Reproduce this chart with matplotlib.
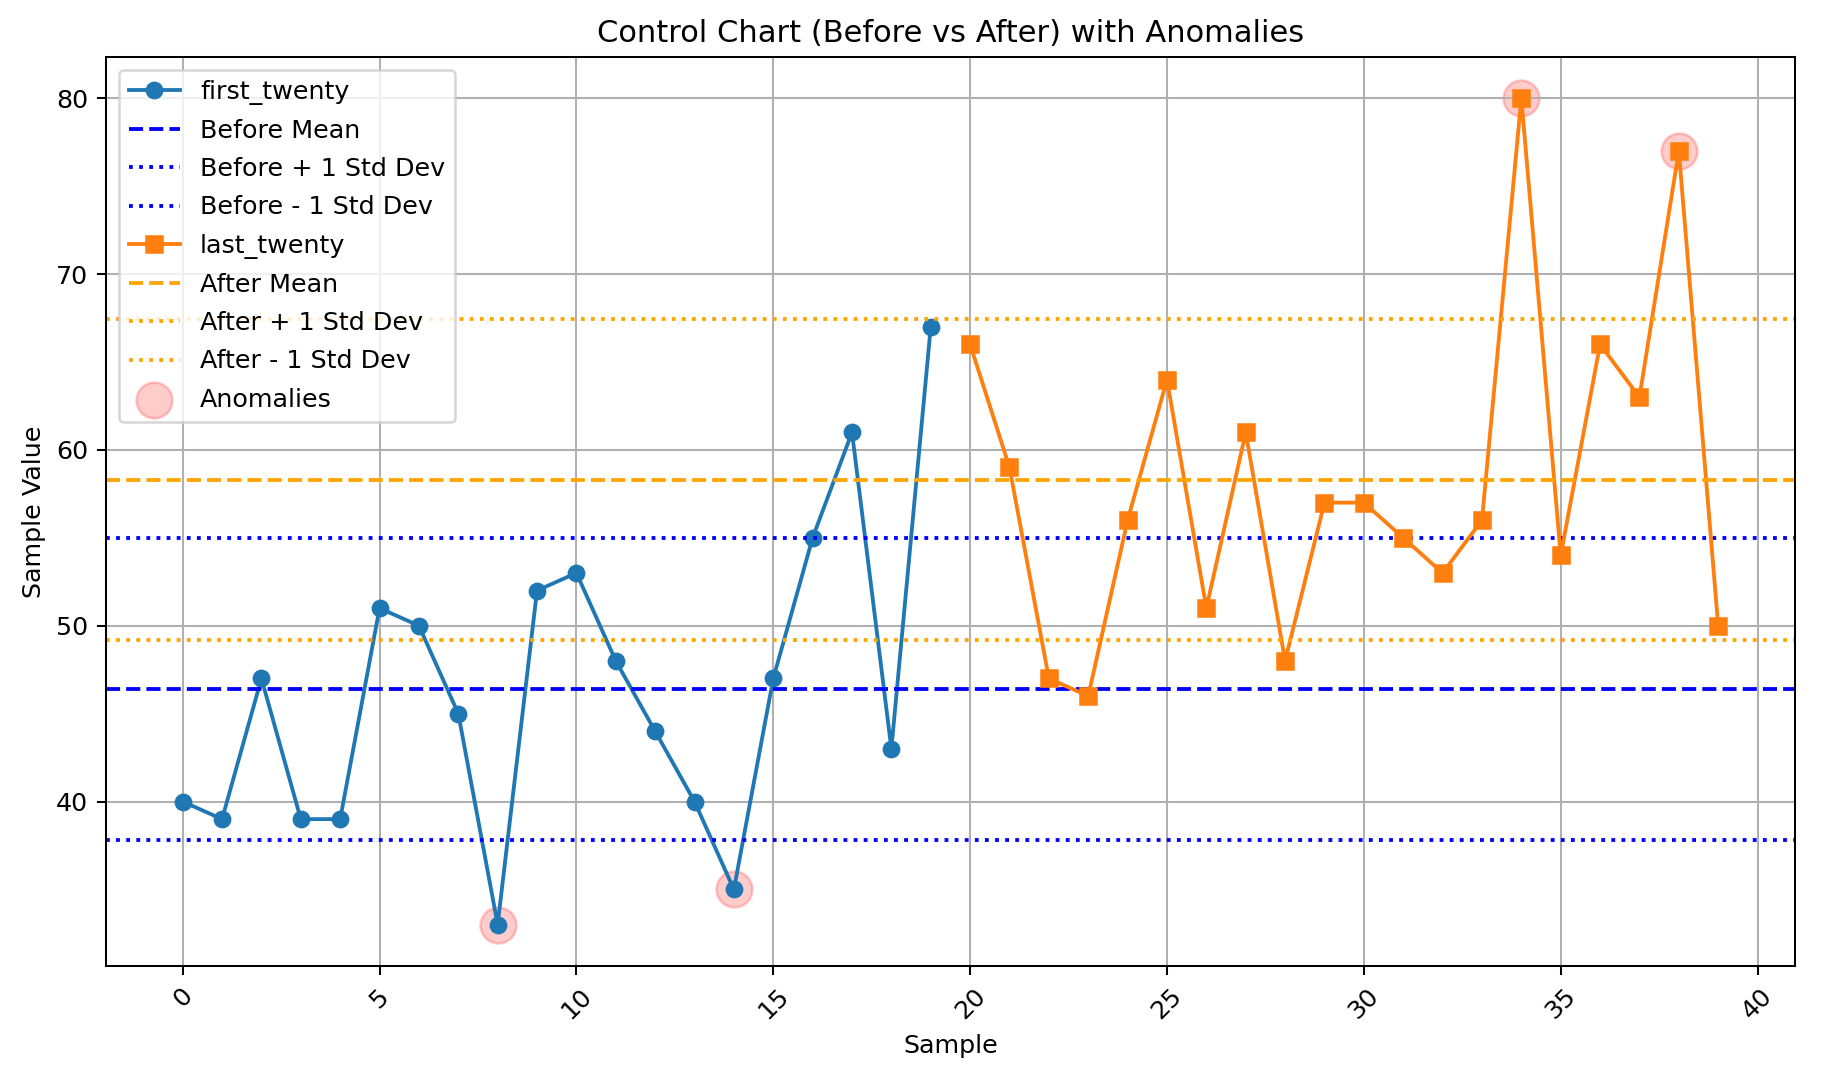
import matplotlib
matplotlib.use("Agg")
import matplotlib.pyplot as plt
import numpy as np

# Данные: первые и последние двадцать замеров
first_twenty = [40, 39, 47, 39, 39, 51, 50, 45, 33, 52,
                53, 48, 44, 40, 35, 47, 55, 61, 43, 67]
last_twenty = [66, 59, 47, 46, 56, 64, 51, 61, 48, 57,
               57, 55, 53, 56, 80, 54, 66, 63, 77, 50]
anomaly_idx = [8, 14, 34, 38]

x_first = np.arange(0, 20)
x_last = np.arange(20, 40)
all_vals = np.array(first_twenty + last_twenty)

before_mean = np.mean(first_twenty)
before_std = np.std(first_twenty, ddof=1)
after_mean = np.mean(last_twenty)
after_std = np.std(last_twenty, ddof=1)

DPI = 183
fig = plt.figure(figsize=(1826 / DPI, 1074 / DPI), dpi=DPI)
ax = fig.add_axes([0.058, 0.1006, 0.925, 0.8464])

ax.plot(x_first, first_twenty, marker='o', label='first_twenty')
ax.axhline(before_mean, color='blue', linestyle='--', label='Before Mean')
ax.axhline(before_mean + before_std, color='blue', linestyle=':', label='Before + 1 Std Dev')
ax.axhline(before_mean - before_std, color='blue', linestyle=':', label='Before - 1 Std Dev')

ax.plot(x_last, last_twenty, marker='s', label='last_twenty')
ax.axhline(after_mean, color='orange', linestyle='--', label='After Mean')
ax.axhline(after_mean + after_std, color='orange', linestyle=':', label='After + 1 Std Dev')
ax.axhline(after_mean - after_std, color='orange', linestyle=':', label='After - 1 Std Dev')

ax.scatter(anomaly_idx, all_vals[anomaly_idx], color='red', s=200, alpha=0.2, label='Anomalies')

ax.set_title('Control Chart (Before vs After) with Anomalies')
ax.set_xlabel('Sample')
ax.set_ylabel('Sample Value')
ax.tick_params(axis='x', rotation=45)
ax.grid(True)
ax.legend(loc='upper left', labelspacing=0.56)

fig.savefig('out.png', dpi=DPI)
